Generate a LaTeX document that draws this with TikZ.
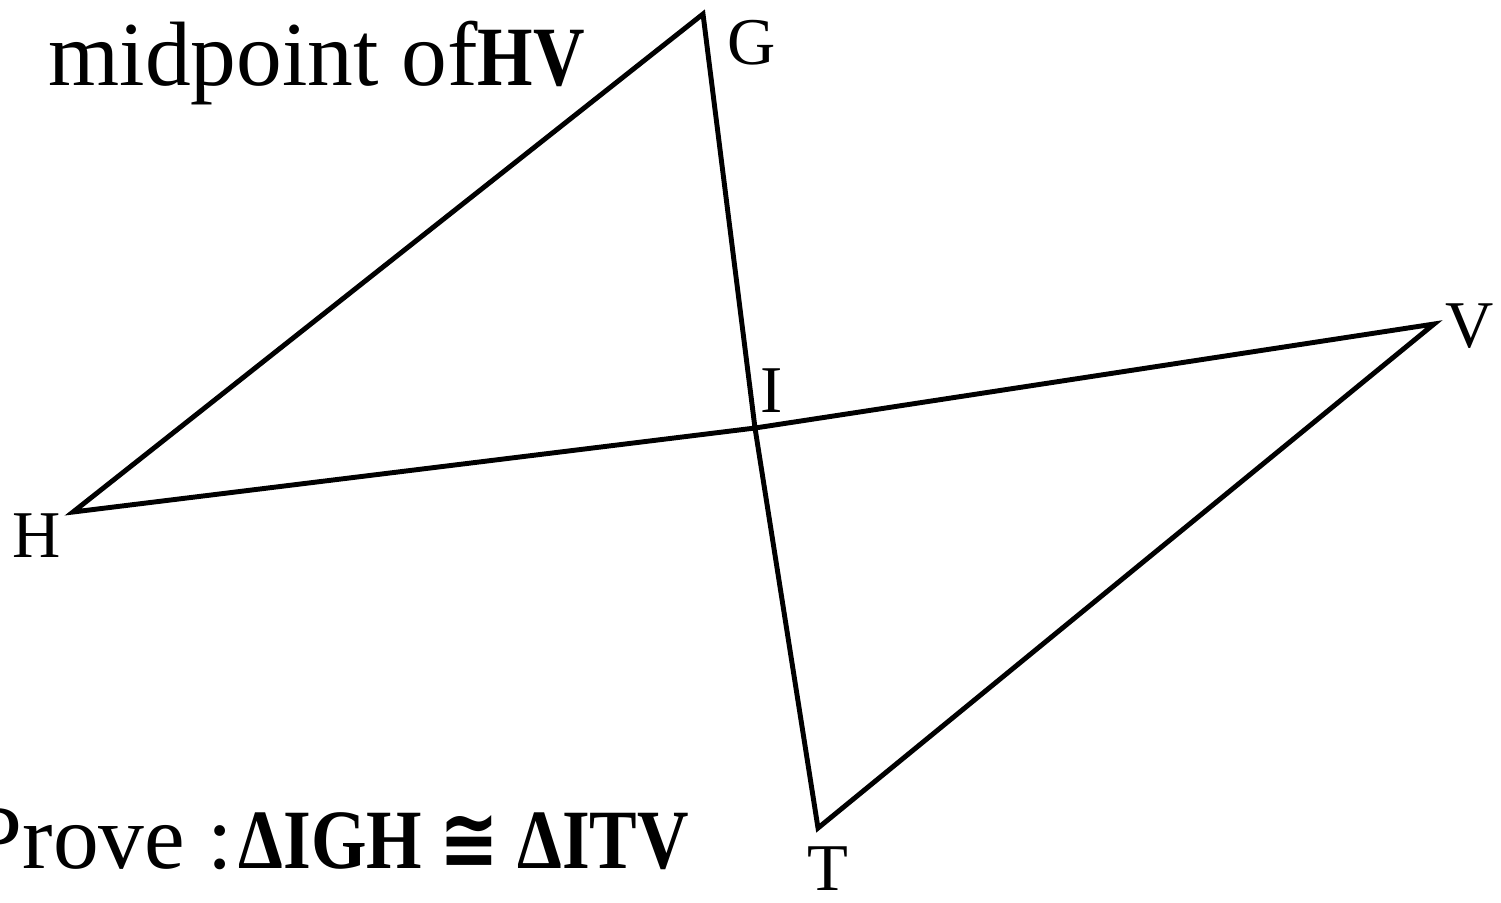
\documentclass[tikz,border=0pt]{standalone}
\usepackage{fontspec}
\setmainfont{Liberation Serif}
\newfontfamily\curlyfont{Liberation Serif}
\newfontfamily\congfont{DejaVu Sans}
\usepackage{tikz}
\newcommand{\boldtext}[1]{\scalebox{0.845}[1]{\fontsize{24}{28}\selectfont\bfseries #1}}
\tikzset{
  figside/.style={line width=1.4pt,line join=miter},
  figlabel/.style={font=\fontsize{19}{22}\selectfont,inner sep=0pt},
  figtext/.style={font=\curlyfont\fontsize{26}{30}\selectfont,inner sep=0pt}
}

\begin{document}
\begin{tikzpicture}[x=0.01cm,y=-0.01cm]
  \useasboundingbox (0,0) rectangle (1501,902);
  \coordinate (G) at (703,14);
  \coordinate (H) at (73,512);
  \coordinate (V) at (1434,324);
  \coordinate (T) at (818,828);
  \coordinate (I) at (755,428);
  \draw[figside] (I)--(G)--(H)--(I)--(V)--(T)--cycle;
  \node[figlabel] (lG) at (752,43) {G};
  \node[figlabel] (lI) at (772,391) {I};
  \node[figlabel] (lH) at (37,536) {H};
  \node[figlabel] (lV) at (1470,326) {V};
  \node[figlabel] (lT) at (828,869) {T};
  \node[figtext,anchor=base west] (given) at (48,85)
    {midpoint of\boldtext{HV}};
  \node[figtext,anchor=base east] (prove) at (234,868) {Prove :};
  \node[figtext,anchor=base west] (claim) at (238,868)
    {\boldtext{ΔIGH {\congfont≅} ΔITV}};
\end{tikzpicture}
\end{document}
